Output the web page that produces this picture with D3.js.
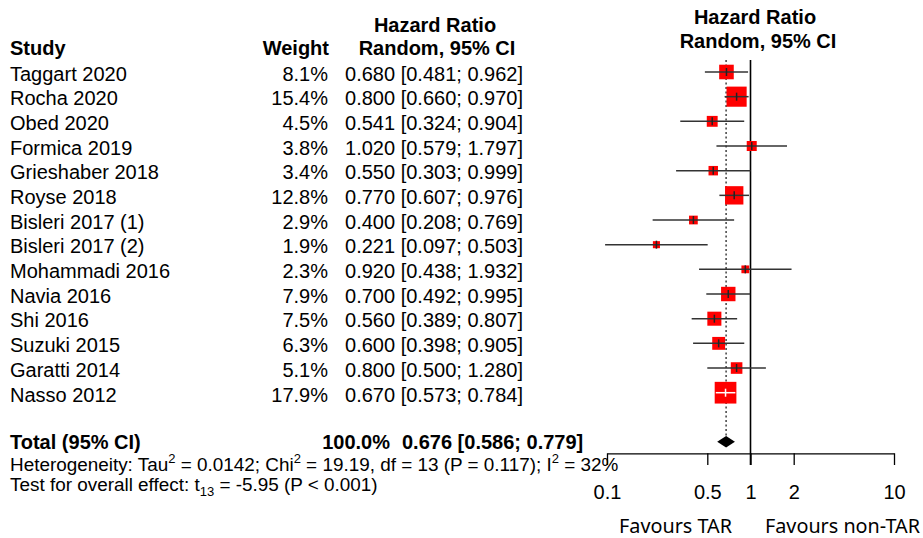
<!DOCTYPE html>
<html>
<head>
<meta charset="utf-8">
<script src="https://cdn.jsdelivr.net/npm/d3@7"></script>
<style>
  body { margin: 0; background: #fff; }
  svg text { font-family: "Liberation Sans", Arial, sans-serif; fill: #000; }
</style>
</head>
<body>
<div id="chart"></div>
<script>
// study level data
var studies = ["Taggart 2020", "Rocha 2020", "Obed 2020", "Formica 2019", "Grieshaber 2018",
    "Royse 2018", "Bisleri 2017 (1)", "Bisleri 2017 (2)", "Mohammadi 2016", "Navia 2016",
    "Shi 2016", "Suzuki 2015", "Garatti 2014", "Nasso 2012"];
var weights = [8.1, 15.4, 4.5, 3.8, 3.4, 12.8, 2.9, 1.9, 2.3, 7.9, 7.5, 6.3, 5.1, 17.9];
var hr    = [0.680, 0.800, 0.541, 1.020, 0.550, 0.770, 0.400, 0.221, 0.920, 0.700, 0.560, 0.600, 0.800, 0.670];
var lower = [0.481, 0.660, 0.324, 0.579, 0.303, 0.607, 0.208, 0.097, 0.438, 0.492, 0.389, 0.398, 0.500, 0.573];
var upper = [0.962, 0.970, 0.904, 1.797, 0.999, 0.976, 0.769, 0.503, 1.932, 0.995, 0.807, 0.905, 1.280, 0.784];

// pooled (random effects) estimate
var pooledWeight = 100.0;
var pooledHR = 0.676, pooledLower = 0.586, pooledUpper = 0.779;

var tickValues = [0.1, 0.5, 1, 2, 10];

var width = 923, height = 538;

var svg = d3.select("#chart")
    .append("svg")
    .attr("width", width)
    .attr("height", height);

// scales
var x = d3.scaleLog().domain([0.1, 10]).range([607, 894]);
var y = d3.scaleLinear().domain([0, studies.length - 1]).range([72, 392.7]);
var boxSize = d3.scaleSqrt().domain([0, 17.9]).range([0, 21.7]);

var rows = studies.map(function(s, i) {
    return {study: s, w: weights[i], hr: hr[i], lo: lower[i], up: upper[i], i: i};
});

var fs = 20;  // main font size

// --- left column headers
svg.append("text").attr("x", 10).attr("y", 55).attr("font-weight", "bold").attr("font-size", fs).text("Study");
svg.append("text").attr("x", 329).attr("y", 55).attr("font-weight", "bold").attr("font-size", fs)
    .attr("text-anchor", "end").text("Weight");
svg.append("text").attr("x", 435).attr("y", 32).attr("font-weight", "bold").attr("font-size", fs)
    .attr("text-anchor", "middle").text("Hazard Ratio");
svg.append("text").attr("x", 437).attr("y", 55).attr("font-weight", "bold").attr("font-size", fs)
    .attr("text-anchor", "middle").text("Random, 95% CI");

// --- right panel header
svg.append("text").attr("x", 755).attr("y", 24).attr("font-weight", "bold").attr("font-size", fs)
    .attr("text-anchor", "middle").text("Hazard Ratio");
svg.append("text").attr("x", 758).attr("y", 48).attr("font-weight", "bold").attr("font-size", fs)
    .attr("text-anchor", "middle").text("Random, 95% CI");

// --- study rows text
var textRows = svg.append("g");
textRows.selectAll(".study")
    .data(rows).enter().append("text")
    .attr("x", 10)
    .attr("y", function(d) { return y(d.i) + 8.8; })
    .attr("font-size", fs)
    .text(function(d) { return d.study; });
textRows.selectAll(".weight")
    .data(rows).enter().append("text")
    .attr("x", 328)
    .attr("y", function(d) { return y(d.i) + 8.8; })
    .attr("font-size", fs)
    .attr("text-anchor", "end")
    .text(function(d) { return d.w.toFixed(1) + "%"; });
textRows.selectAll(".ci")
    .data(rows).enter().append("text")
    .attr("x", 523)
    .attr("y", function(d) { return y(d.i) + 8.8; })
    .attr("font-size", fs)
    .attr("text-anchor", "end")
    .text(function(d) { return d.hr.toFixed(3) + " [" + d.lo.toFixed(3) + "; " + d.up.toFixed(3) + "]"; });

// --- total row
svg.append("text").attr("x", 10).attr("y", 449).attr("font-weight", "bold").attr("font-size", fs).text("Total (95% CI)");
svg.append("text").attr("x", 390).attr("y", 449).attr("font-weight", "bold").attr("font-size", fs)
    .attr("text-anchor", "end").text(pooledWeight.toFixed(1) + "%");
svg.append("text").attr("x", 402).attr("y", 449).attr("font-weight", "bold").attr("font-size", fs)
    .text(pooledHR.toFixed(3) + " [" + pooledLower.toFixed(3) + "; " + pooledUpper.toFixed(3) + "]");

// heterogeneity + overall effect
var het = svg.append("text").attr("x", 10).attr("y", 470.5).attr("font-size", 18.9);
het.append("tspan").text("Heterogeneity: Tau");
het.append("tspan").attr("font-size", 13).attr("dy", -8).text("2");
het.append("tspan").attr("dy", 8).text(" = 0.0142; Chi");
het.append("tspan").attr("font-size", 13).attr("dy", -8).text("2");
het.append("tspan").attr("dy", 8).text(" = 19.19, df = 13 (P = 0.117); I");
het.append("tspan").attr("font-size", 13).attr("dy", -8).text("2");
het.append("tspan").attr("dy", 8).text(" = 32%");

var test = svg.append("text").attr("x", 10).attr("y", 491).attr("font-size", 18.9);
test.append("tspan").text("Test for overall effect: t");
test.append("tspan").attr("font-size", 13).attr("dy", 5).text("13");
test.append("tspan").attr("dy", -5).text(" = -5.95 (P < 0.001)");

// --- forest panel
var plot = svg.append("g");

// line of no effect
plot.append("line")
    .attr("x1", x(1)).attr("x2", x(1))
    .attr("y1", 60).attr("y2", 465)
    .attr("stroke", "#000").attr("stroke-width", 1.6);

// pooled estimate dotted line
plot.append("line")
    .attr("x1", x(pooledHR)).attr("x2", x(pooledHR))
    .attr("y1", 60).attr("y2", 436)
    .attr("stroke", "#333").attr("stroke-width", 1.4)
    .attr("stroke-dasharray", "2,2.5");

// boxes
plot.selectAll(".box")
    .data(rows).enter().append("rect")
    .attr("x", function(d) { return x(d.hr) - boxSize(d.w) / 2; })
    .attr("y", function(d) { return y(d.i) - boxSize(d.w) / 2; })
    .attr("width", function(d) { return boxSize(d.w); })
    .attr("height", function(d) { return boxSize(d.w); })
    .attr("fill", "#ff0000");

// CI lines (white when the whole interval sits inside the box)
var inside = function(d) {
    var half = boxSize(d.w) / 2;
    return x(d.lo) >= x(d.hr) - half && x(d.up) <= x(d.hr) + half;
};
plot.selectAll(".ci")
    .data(rows).enter().append("line")
    .attr("x1", function(d) { return x(d.lo); })
    .attr("x2", function(d) { return x(d.up); })
    .attr("y1", function(d) { return y(d.i); })
    .attr("y2", function(d) { return y(d.i); })
    .attr("stroke", function(d) { return inside(d) ? "#fff" : "#333"; })
    .attr("stroke-width", 1.5);
plot.selectAll(".mid")
    .data(rows).enter().append("line")
    .attr("x1", function(d) { return x(d.hr); })
    .attr("x2", function(d) { return x(d.hr); })
    .attr("y1", function(d) { return y(d.i) - 4; })
    .attr("y2", function(d) { return y(d.i) + 4; })
    .attr("stroke", function(d) { return inside(d) ? "#fff" : "#222"; })
    .attr("stroke-width", 1.5);

// pooled diamond
var dy = 441.7;
plot.append("path")
    .attr("d", "M" + x(pooledLower) + "," + dy +
               "L" + x(pooledHR) + "," + (dy - 5.7) +
               "L" + x(pooledUpper) + "," + dy +
               "L" + x(pooledHR) + "," + (dy + 5.7) + "Z")
    .attr("fill", "#000");

// x axis
var axis = svg.append("g")
    .attr("transform", "translate(0,453.3)")
    .call(d3.axisBottom(x)
        .tickValues(tickValues)
        .tickFormat(function(d) { return String(d); })
        .tickSize(11.7)
        .tickSizeOuter(0)
        .tickPadding(20));
axis.select(".domain").attr("stroke", "#000").attr("stroke-width", 1.3);
axis.selectAll(".tick line").attr("stroke", "#000").attr("stroke-width", 1.3);
axis.selectAll(".tick text")
    .attr("font-size", fs)
    .attr("font-family", "'Liberation Sans', Arial, sans-serif")
    .attr("fill", "#000");

// favours labels
svg.append("text").attr("x", 732).attr("y", 533).attr("text-anchor", "end")
    .attr("font-size", 19.8).style("font-family", "'Noto Sans', sans-serif").text("Favours TAR");
svg.append("text").attr("x", 765).attr("y", 533)
    .attr("font-size", 19.8).style("font-family", "'Noto Sans', sans-serif").text("Favours non-TAR");
</script>
</body>
</html>
